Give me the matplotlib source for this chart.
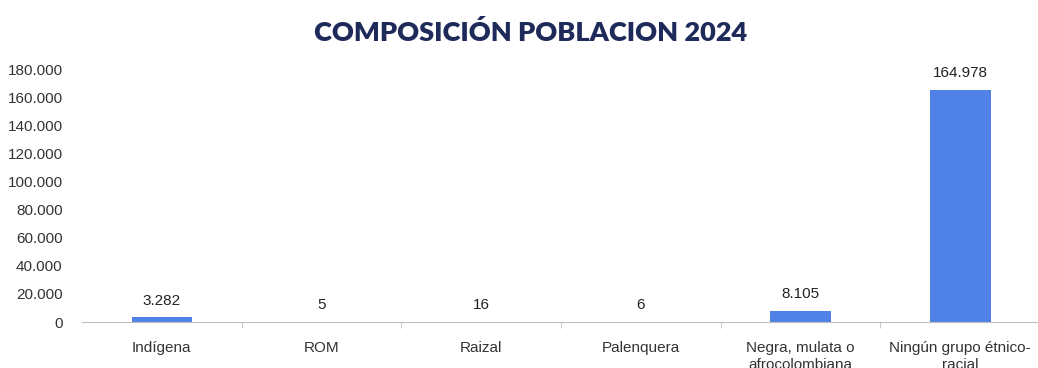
import matplotlib.pyplot as plt
from matplotlib.ticker import FuncFormatter, FixedLocator

categorias = ['Indígena', 'ROM', 'Raizal', 'Palenquera',
              'Negra, mulata o\nafrocolombiana', 'Ningún grupo étnico-\nracial']
poblacion = [3282, 5, 16, 6, 8105, 164978]


def miles(v):
    return f'{int(round(v)):,}'.replace(',', '.')


plt.rcParams['font.family'] = ['Liberation Sans', 'DejaVu Sans']

fig = plt.figure(figsize=(10.38, 3.68), dpi=100)
ax = fig.add_axes([0.079, 0.125, 0.923, 0.693])

x = range(len(categorias))
ax.bar(x, poblacion, width=0.38, color='#4f81e6', zorder=2)

for i, v in zip(x, poblacion):
    ax.annotate(miles(v), (i, v), xytext=(0, 7), textcoords='offset points',
                ha='center', va='bottom', fontsize=11, color='#222222')

ax.set_xlim(-0.5, len(categorias) - 0.5)
ax.set_ylim(0, 181500)
ax.set_yticks(range(0, 180001, 20000))
ax.yaxis.set_major_formatter(FuncFormatter(lambda v, p: miles(v)))

ax.set_xticks(list(x))
ax.set_xticklabels(categorias, fontsize=11, color='#333333', linespacing=1.25)
ax.xaxis.set_minor_locator(FixedLocator([i + 0.5 for i in range(len(categorias) - 1)]))
ax.tick_params(axis='x', which='major', length=0, pad=14)
ax.tick_params(axis='x', which='minor', length=4, color='#bfbfbf', direction='out')
ax.tick_params(axis='y', length=0, labelsize=11, labelcolor='#333333', pad=14)

for s in ['top', 'right', 'left']:
    ax.spines[s].set_visible(False)
ax.spines['bottom'].set_color('#bfbfbf')

fig.text(0.511, 0.912, 'COMPOSICIÓN POBLACION 2024', ha='center', va='center',
         fontsize=19.5, fontweight='heavy', color='#1d2a5a', family=['Lato', 'DejaVu Sans'])

fig.savefig('out.png', dpi=100, facecolor='white')
